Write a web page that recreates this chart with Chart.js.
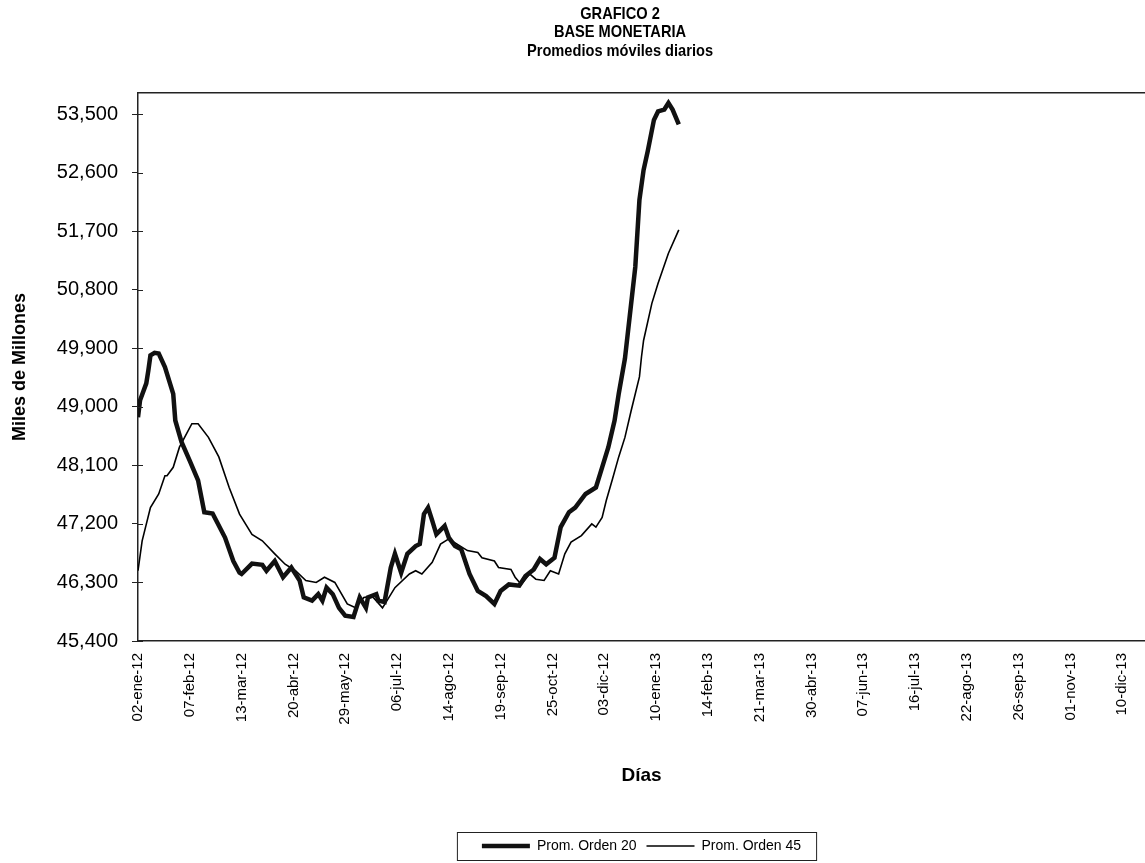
<!DOCTYPE html>
<html>
<head>
<meta charset="utf-8">
<title>Base Monetaria - Promedios móviles diarios</title>
<script src="https://cdn.jsdelivr.net/npm/chart.js@4.4.1/dist/chart.umd.min.js"></script>
<style>
    html, body { margin: 0; padding: 0; background: #fff; }
</style>
</head>
<body>
<canvas id="baseChart" width="1145" height="863"></canvas>
<script>
// Title lines, drawn in a condensed bold face above the plot
const titleLines = ['GRAFICO 2', 'BASE MONETARIA', 'Promedios móviles diarios'];

// Tick labels on the x axis, one every 25 business days
const tickLabels = [
    '02-ene-12', '07-feb-12', '13-mar-12', '20-abr-12', '29-may-12',
    '06-jul-12', '14-ago-12', '19-sep-12', '25-oct-12', '03-dic-12',
    '10-ene-13', '14-feb-13', '21-mar-13', '30-abr-13', '07-jun-13',
    '16-jul-13', '22-ago-13', '26-sep-13', '01-nov-13', '10-dic-13'
];
const tickStep = 25;
const yTicks = [45400, 46300, 47200, 48100, 49000, 49900, 50800, 51700, 52600, 53500];

// Prom. Orden 20 (business-day index, millions)
const dias20 = [0, 1, 4, 5, 6, 8, 10, 13, 17, 18, 21, 25, 29, 32, 36, 42, 46, 49, 50, 55,
    60, 62, 66, 70, 74, 78, 80, 84, 87, 89, 91, 94, 97, 100, 104, 107, 110, 111, 115, 116,
    119, 122, 124, 127, 130, 134, 136, 138, 140, 142, 144, 148, 150, 153, 156, 160, 164, 168, 172, 175,
    179, 184, 187, 191, 194, 197, 201, 204, 208, 211, 216, 221, 224, 227, 230, 232, 235, 240, 242, 244,
    246, 249, 251, 254, 256, 258, 261];
const orden20 = [48840, 49100, 49360, 49560, 49790, 49830, 49820, 49610, 49200, 48790, 48460, 48170, 47870, 47380, 47360, 46990, 46630, 46450, 46430, 46590,
    46570, 46480, 46630, 46380, 46530, 46330, 46070, 46020, 46120, 46020, 46220, 46120, 45910, 45790, 45770, 46070, 45910, 46070, 46120, 46020,
    46000, 46530, 46740, 46450, 46740, 46860, 46890, 47350, 47450, 47250, 47040, 47170, 46990, 46860, 46810, 46430, 46170, 46090, 45970, 46170,
    46270, 46250, 46400, 46500, 46660, 46580, 46680, 47150, 47380, 47450, 47660, 47760, 48070, 48380, 48790, 49200, 49740, 51150, 52180, 52640,
    52930, 53410, 53540, 53570, 53670, 53570, 53340];

// Prom. Orden 45
const dias45 = [0, 2, 6, 10, 13, 14, 17, 20, 23, 26, 29, 34, 39, 44, 49, 55, 60, 66, 71, 76,
    81, 86, 90, 95, 101, 105, 109, 113, 118, 124, 131, 134, 137, 142, 146, 150, 154, 159, 164, 166,
    172, 174, 180, 182, 185, 189, 192, 196, 199, 203, 206, 209, 214, 219, 221, 224, 226, 229, 232, 235,
    238, 242, 243, 244, 248, 251, 256, 261];
const orden45 = [46480, 46940, 47450, 47660, 47940, 47940, 48070, 48380, 48560, 48740, 48740, 48530, 48230, 47760, 47350, 47040, 46940, 46740, 46580, 46480,
    46330, 46300, 46380, 46300, 45970, 45910, 46070, 46090, 45910, 46220, 46430, 46480, 46430, 46610, 46890, 46970, 46890, 46790, 46760, 46680,
    46630, 46530, 46500, 46380, 46270, 46430, 46350, 46330, 46480, 46430, 46740, 46920, 47020, 47200, 47150, 47300, 47560, 47890, 48230, 48530,
    48940, 49460, 49770, 50020, 50590, 50900, 51360, 51720];

const toPoints = (xs, ys) => xs.map((x, i) => ({ x: x, y: ys[i] }));

// Title block (narrow bold type, centred a bit left of the plot centre)
const titleBlock = {
    id: 'titleBlock',
    afterDraw(chart) {
        const ctx = chart.ctx;
        ctx.save();
        ctx.font = 'bold 17px "Liberation Sans", Arial, sans-serif';
        ctx.fillStyle = '#000';
        ctx.textAlign = 'center';
        ctx.textBaseline = 'middle';
        titleLines.forEach((line, i) => {
            ctx.save();
            ctx.translate(620, 14 + i * 18.5);
            ctx.scale(0.86, 1);
            ctx.fillText(line, 0, 0);
            ctx.restore();
        });
        ctx.restore();
    }
};

// The y tick marks cross the axis: add the short inner half
const innerTicks = {
    id: 'innerTicks',
    afterDatasetsDraw(chart) {
        const y = chart.scales.y;
        const left = chart.chartArea.left;
        const ctx = chart.ctx;
        ctx.save();
        ctx.strokeStyle = '#222';
        ctx.lineWidth = 1;
        yTicks.forEach(v => {
            const py = Math.round(y.getPixelForValue(v)) + 0.5;
            ctx.beginPath();
            ctx.moveTo(left, py);
            ctx.lineTo(left + 5, py);
            ctx.stroke();
        });
        ctx.restore();
    }
};

// Box drawn around the legend entries
const legendFrame = {
    id: 'legendFrame',
    afterDraw(chart) {
        const boxes = chart.legend.legendHitBoxes;
        if (!boxes || !boxes.length) return;
        const left = Math.min(...boxes.map(b => b.left)) - 25;
        const right = Math.max(...boxes.map(b => b.left + b.width)) + 15;
        const top = Math.min(...boxes.map(b => b.top)) - 7;
        const bottom = Math.max(...boxes.map(b => b.top + b.height)) + 7;
        const ctx = chart.ctx;
        ctx.save();
        ctx.strokeStyle = '#222';
        ctx.lineWidth = 1;
        ctx.strokeRect(left + 0.5, top + 0.5, right - left, bottom - top);
        ctx.restore();
    }
};

Chart.defaults.font.family = '"Liberation Sans", Arial, sans-serif';
Chart.defaults.color = '#000';

new Chart(document.getElementById('baseChart'), {
    type: 'line',
    data: {
        datasets: [{
            label: 'Prom. Orden 20',
            data: toPoints(dias20, orden20),
            borderColor: '#111',
            borderWidth: 4.5,
            pointRadius: 0,
            tension: 0
        }, {
            label: 'Prom. Orden 45',
            data: toPoints(dias45, orden45),
            borderColor: '#000',
            borderWidth: 1.6,
            pointRadius: 0,
            tension: 0
        }]
    },
    options: {
        responsive: false,
        animation: false,
        layout: { padding: { left: 0, right: 0, top: 93, bottom: 0 } },
        plugins: {
            title: { display: false },
            legend: {
                position: 'bottom',
                fullSize: false,
                labels: {
                    usePointStyle: true,
                    pointStyle: 'line',
                    pointStyleWidth: 48,
                    font: { size: 14 },
                    padding: 10
                }
            },
            tooltip: { enabled: false }
        },
        scales: {
            x: {
                type: 'linear',
                min: 0,
                max: 486,
                afterBuildTicks: scale => {
                    scale.ticks = tickLabels.map((t, i) => ({ value: i * tickStep }));
                },
                afterFit: scale => {
                    scale.height = 188;
                    scale.paddingLeft = 0;
                    scale.paddingRight = 0;
                },
                ticks: {
                    autoSkip: false,
                    minRotation: 90,
                    maxRotation: 90,
                    padding: 12,
                    font: { size: 15 },
                    callback: v => tickLabels[Math.round(v / tickStep)]
                },
                grid: { display: true, drawOnChartArea: false, drawTicks: false },
                border: { display: true, color: '#222', width: 1.5 },
                title: {
                    display: true,
                    text: 'Días',
                    font: { size: 19, weight: 'bold', lineHeight: 1.2 },
                    padding: { top: 0, bottom: 42 }
                }
            },
            xTop: {
                type: 'linear',
                position: 'top',
                min: 0,
                max: 1,
                afterFit: scale => {
                    scale.height = 0;
                    scale.paddingLeft = 0;
                    scale.paddingRight = 0;
                },
                ticks: { display: false },
                grid: { display: true, drawOnChartArea: false, drawTicks: false },
                border: { display: true, color: '#222', width: 1.5 }
            },
            y: {
                min: 45400,
                max: 53824,
                afterBuildTicks: scale => {
                    scale.ticks = yTicks.map(v => ({ value: v }));
                },
                afterFit: scale => { scale.width = 138; },
                ticks: {
                    padding: 14,
                    font: { size: 20 },
                    callback: v => v.toLocaleString('en-US')
                },
                grid: { drawOnChartArea: false, drawTicks: true, tickLength: 6, color: '#222' },
                border: { display: true, color: '#222', width: 1.5 },
                title: {
                    display: true,
                    text: 'Miles de Millones',
                    font: { size: 18, weight: 'bold', lineHeight: 1.2 },
                    padding: { top: 9, bottom: 0 }
                }
            }
        }
    },
    plugins: [titleBlock, innerTicks, legendFrame]
});
</script>
</body>
</html>
